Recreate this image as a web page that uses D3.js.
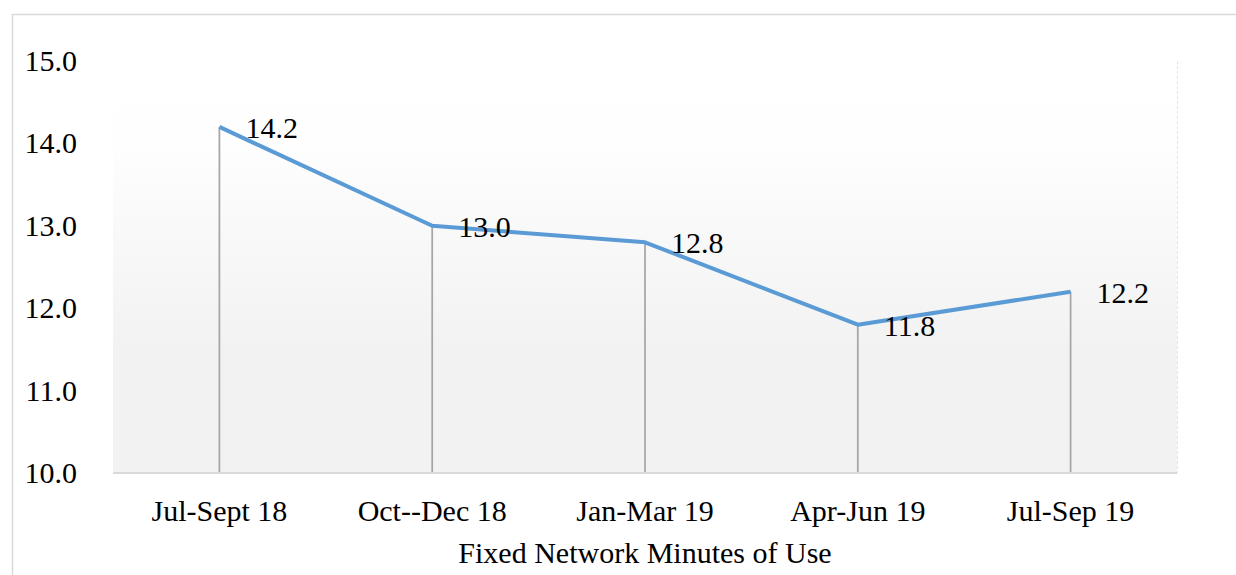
<!DOCTYPE html>
<html>
<head>
<meta charset="utf-8">
<script src="https://cdn.jsdelivr.net/npm/d3@7"></script>
<style>
  html, body { margin: 0; padding: 0; background: #fff; }
  svg { display: block; }
  text { font-family: "Liberation Serif", "DejaVu Serif", serif; fill: #000; }
</style>
</head>
<body>
<svg id="chart" width="1236" height="575"></svg>
<script>
'use strict';

var categories = ['Jul-Sept 18', 'Oct--Dec 18', 'Jan-Mar 19', 'Apr-Jun 19', 'Jul-Sep 19'],
    minutes = [14.2, 13.0, 12.8, 11.8, 12.2],
    yTicks = [10, 11, 12, 13, 14, 15],
    axisTitle = 'Fixed Network Minutes of Use';

var svg = d3.select('#chart'),
    margin = {left: 113, right: 59, top: 61, bottom: 102},
    width = 1236 - margin.left - margin.right,
    height = 575 - margin.top - margin.bottom,
    fontSize = 30,
    x,
    y,
    plot,
    defs,
    grad;

// outer chart border, cut off at the right and bottom like the source
svg.append('rect')
    .attr('x', 12.5)
    .attr('y', 14.5)
    .attr('width', 1300)
    .attr('height', 700)
    .attr('fill', 'none')
    .attr('stroke', '#d9d9d9')
    .attr('stroke-width', 1.5);

defs = svg.append('defs');
grad = defs.append('linearGradient')
    .attr('id', 'plotFill')
    .attr('x1', 0).attr('y1', 0)
    .attr('x2', 0).attr('y2', 1);
grad.append('stop').attr('offset', '0%').attr('stop-color', '#ffffff');
grad.append('stop').attr('offset', '20%').attr('stop-color', '#fefefe');
grad.append('stop').attr('offset', '70%').attr('stop-color', '#f2f2f2');
grad.append('stop').attr('offset', '100%').attr('stop-color', '#f2f2f2');

x = d3.scaleBand()
    .domain(categories)
    .range([0, width]);

y = d3.scaleLinear()
    .domain([10, 15])
    .range([height, 0]);

plot = svg.append('g')
    .attr('transform', 'translate(' + margin.left + ',' + margin.top + ')');

plot.append('rect')
    .attr('width', width)
    .attr('height', height)
    .attr('fill', 'url(#plotFill)');

// faint right edge of the plot area
plot.append('line')
    .attr('x1', width + 0.5).attr('x2', width + 0.5)
    .attr('y1', 0).attr('y2', height)
    .attr('stroke', '#f4dede')
    .attr('stroke-dasharray', '3,2')
    .attr('stroke-width', 1);

// drop lines from each point to the baseline
plot.selectAll('.drop')
    .data(minutes)
    .enter().append('line')
    .attr('class', 'drop')
    .attr('x1', function (d, i) { return x(categories[i]) + x.bandwidth() / 2; })
    .attr('x2', function (d, i) { return x(categories[i]) + x.bandwidth() / 2; })
    .attr('y1', function (d) { return y(d); })
    .attr('y2', height)
    .attr('stroke', '#a6a6a6')
    .attr('stroke-width', 1.75);

// baseline
plot.append('line')
    .attr('x1', 0).attr('x2', width)
    .attr('y1', height).attr('y2', height)
    .attr('stroke', '#d9d9d9')
    .attr('stroke-width', 2);

plot.append('path')
    .datum(minutes)
    .attr('fill', 'none')
    .attr('stroke', '#5b9bd5')
    .attr('stroke-width', 4)
    .attr('stroke-linejoin', 'round')
    .attr('d', d3.line()
        .x(function (d, i) { return x(categories[i]) + x.bandwidth() / 2; })
        .y(function (d) { return y(d); }));

// data labels, to the right of each point
plot.selectAll('.label')
    .data(minutes)
    .enter().append('text')
    .attr('class', 'label')
    .attr('x', function (d, i) { return x(categories[i]) + x.bandwidth() / 2 + 26; })
    .attr('y', function (d) { return y(d) + 11; })
    .style('font-size', fontSize + 'px')
    .text(function (d) { return d.toFixed(1); });

// y axis labels (no axis line)
svg.append('g')
    .selectAll('text')
    .data(yTicks)
    .enter().append('text')
    .attr('x', 77)
    .attr('y', function (d) { return margin.top + y(d) + 10; })
    .attr('text-anchor', 'end')
    .style('font-size', fontSize + 'px')
    .text(function (d) { return d.toFixed(1); });

// category labels
svg.append('g')
    .selectAll('text')
    .data(categories)
    .enter().append('text')
    .attr('x', function (d) { return margin.left + x(d) + x.bandwidth() / 2; })
    .attr('y', 521)
    .attr('text-anchor', 'middle')
    .style('font-size', fontSize + 'px')
    .text(function (d) { return d; });

svg.append('text')
    .attr('x', margin.left + width / 2)
    .attr('y', 563)
    .attr('text-anchor', 'middle')
    .style('font-size', fontSize + 'px')
    .text(axisTitle);
</script>
</body>
</html>
